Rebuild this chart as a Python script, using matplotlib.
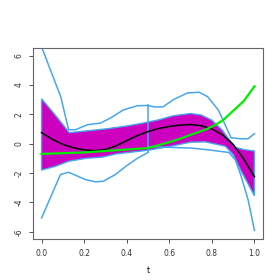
import numpy as np
import matplotlib
matplotlib.use("Agg")
import matplotlib.pyplot as plt

# fitted curve (black)
t_fit = [0.0, 0.05, 0.1, 0.15, 0.2, 0.25, 0.3, 0.35, 0.4, 0.45, 0.5, 0.55,
         0.6, 0.65, 0.7, 0.75, 0.8, 0.85, 0.9, 0.95, 1.0]
fit = [0.75, 0.3, -0.05, -0.28, -0.43, -0.48, -0.4, -0.15, 0.2, 0.55, 0.82,
       1.03, 1.17, 1.26, 1.3, 1.22, 1.0, 0.6, -0.05, -1.05, -2.25]

# true function (green)
t_true = [0.0, 0.1, 0.2, 0.35, 0.5, 0.6, 0.65, 0.7, 0.77, 0.82, 0.855, 0.89,
          0.95, 1.0]
true = [-0.7, -0.65, -0.6, -0.45, -0.3, 0.1, 0.33, 0.6, 0.95, 1.3, 1.63, 2.1,
        2.9, 3.9]

# pointwise band (magenta)
t_bu = [0.0, 0.05, 0.1, 0.13, 0.2, 0.3, 0.4, 0.47, 0.55, 0.62, 0.7, 0.75,
        0.8, 0.85, 0.88, 0.91, 0.95, 1.0]
band_up = [3.05, 2.2, 1.3, 0.75, 0.85, 1.0, 1.2, 1.38, 1.62, 1.9, 2.05, 1.95,
           1.6, 0.9, 0.3, -0.25, -0.4, -0.5]
t_bl = [0.0, 0.066, 0.127, 0.21, 0.285, 0.35, 0.5, 0.6, 0.7, 0.77, 0.864,
        0.9, 0.934, 0.967, 1.0]
band_lo = [-1.8, -1.54, -1.2, -1.0, -0.92, -0.7, -0.45, -0.2, 0.1, 0.12,
           -0.18, -0.75, -1.77, -2.65, -3.55]

# simultaneous bands (cyan), two pieces split at t = 0.5
t_ul = [0.0, 0.042, 0.09, 0.127, 0.16, 0.216, 0.277, 0.324, 0.385, 0.45, 0.5]
up_left = [6.6, 5.0, 3.2, 0.95, 0.95, 1.29, 1.4, 1.75, 2.3, 2.58, 2.6]
t_ll = [0.0, 0.089, 0.127, 0.167, 0.207, 0.254, 0.29, 0.347, 0.4, 0.45, 0.5]
lo_left = [-5.06, -2.1, -1.95, -2.2, -2.45, -2.6, -2.56, -2.1, -1.5, -1.0, -0.6]
t_ur = [0.5, 0.53, 0.57, 0.62, 0.685, 0.74, 0.78, 0.83, 0.865, 0.89, 0.935,
        0.97, 1.0]
up_right = [2.6, 2.5, 2.5, 3.0, 3.45, 3.5, 3.2, 2.3, 1.2, 0.4, 0.33, 0.33, 0.68]
t_lr = [0.5, 0.6, 0.7, 0.77, 0.88, 0.91, 0.935, 0.97, 1.0]
lo_right = [-0.2, -0.25, -0.3, -0.4, -0.6, -1.1, -2.1, -3.8, -5.9]

xticks = [0.0, 0.2, 0.4, 0.6, 0.8, 1.0]
yticks = [-6, -4, -2, 0, 2, 4, 6]

band_col = '#CD00C0'
cyan_col = '#47A6EE'

fig = plt.figure(figsize=(2.8, 2.8), dpi=100)
ax = fig.add_axes([0.118, 0.146, 0.821, 0.682])

poly_x = list(t_bu) + list(t_bl[::-1])
poly_y = list(band_up) + list(band_lo[::-1])
ax.fill(poly_x, poly_y, facecolor=band_col, edgecolor=cyan_col, linewidth=1.0, zorder=1)

ax.plot(t_ul, up_left, color=cyan_col, lw=1.1, zorder=2)
ax.plot(t_ll, lo_left, color=cyan_col, lw=1.1, zorder=2)
ax.plot(t_ur, up_right, color=cyan_col, lw=1.1, zorder=2)
ax.plot(t_lr, lo_right, color=cyan_col, lw=1.1, zorder=2)
ax.plot([t_ul[-1], t_ll[-1]], [up_left[-1], lo_left[-1]], color=cyan_col, lw=1.1, zorder=2)

ax.plot(t_fit, fit, color='black', lw=1.1, zorder=3)
ax.plot(t_true, true, color='#00EE00', lw=1.6, zorder=4)

ax.set_xlim(-0.04, 1.04)
ax.set_ylim(-6.5, 6.5)
ax.set_xticks(xticks)
ax.set_xticklabels(['%.1f' % v for v in xticks])
ax.set_yticks(yticks)
ax.set_yticklabels([str(v) for v in yticks], rotation=90, va='center')
ax.tick_params(direction='out', length=3, width=0.6, labelsize=5.5, pad=4, colors='#333333')
for s in ax.spines.values():
    s.set_linewidth(0.8)
    s.set_color('#666666')
ax.set_xlabel('t', fontsize=5.5, labelpad=6)

fig.savefig('out.png', dpi=100)
